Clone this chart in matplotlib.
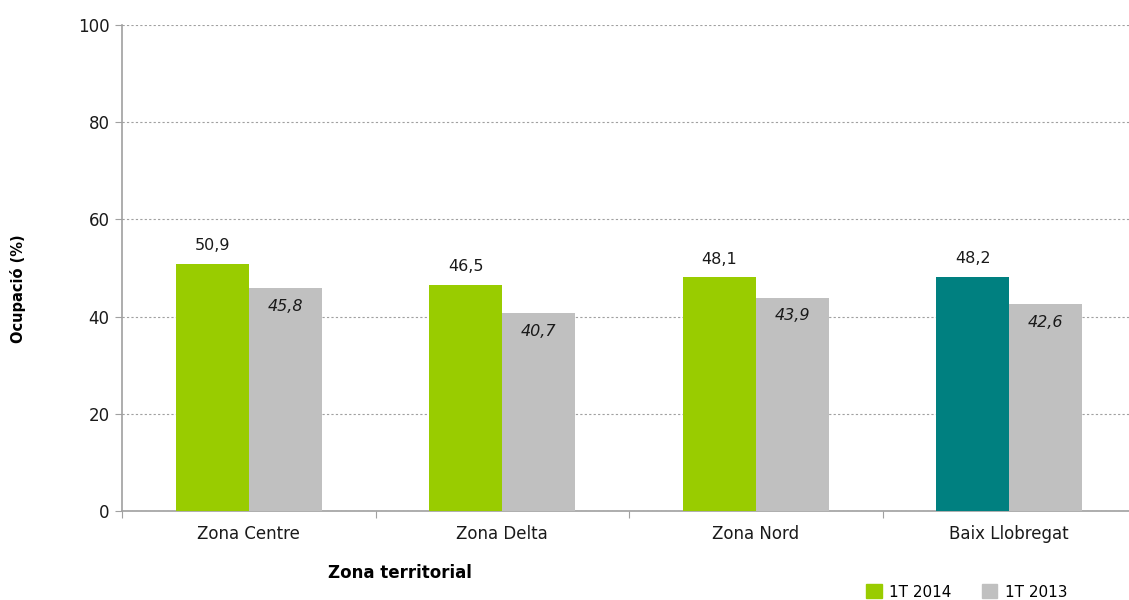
import numpy as np
import matplotlib
matplotlib.use("Agg")
import matplotlib.pyplot as plt
from matplotlib.patches import Patch

# Data
zones = ["Zona Centre", "Zona Delta", "Zona Nord", "Baix Llobregat"]
occ_2014 = [50.9, 46.5, 48.1, 48.2]
occ_2013 = [45.8, 40.7, 43.9, 42.6]
labels_2014 = ["50,9", "46,5", "48,1", "48,2"]
labels_2013 = ["45,8", "40,7", "43,9", "42,6"]
yticks = [0, 20, 40, 60, 80, 100]

green = "#99CC00"
teal = "#008080"
grey = "#C0C0C0"
colors_2014 = [green, green, green, teal]

fig = plt.figure(figsize=(11.29, 6.0), dpi=100)
ax = fig.add_axes([122 / 1129, 89 / 600, 1014 / 1129, 486 / 600])

x = np.arange(len(zones))
w = 0.288
ax.bar(x - w / 2, occ_2014, width=w, color=colors_2014, zorder=3)
ax.bar(x + w / 2, occ_2013, width=w, color=grey, zorder=3)

# value labels: 2014 above the bar, 2013 inside in italics
for xi, v, t in zip(x, occ_2014, labels_2014):
    ax.text(xi - w / 2, v + 2.2, t, ha="center", va="bottom", fontsize=11.5,
            color="#1a1a1a", zorder=4)
for xi, v, t in zip(x, occ_2013, labels_2013):
    ax.text(xi + w / 2, v - 2.2, t, ha="center", va="top", fontsize=11.5,
            style="italic", color="#1a1a1a", zorder=4)

ax.set_xlim(-0.5, 3.5)
ax.set_ylim(0, 100)
ax.set_yticks(yticks)
ax.set_yticklabels([str(t) for t in yticks], fontsize=12, color="#1a1a1a")
ax.tick_params(axis="y", length=5, color="#A0A0A0", pad=4)

# category ticks sit between groups, labels at the group centres
ax.set_xticks(np.arange(-0.5, 3.6, 1.0))
ax.set_xticklabels([])
ax.set_xticks(x, minor=True)
ax.set_xticklabels(zones, minor=True, fontsize=12, color="#1a1a1a")
ax.tick_params(axis="x", which="major", length=5, color="#A0A0A0")
ax.tick_params(axis="x", which="minor", length=0, pad=10)

ax.yaxis.grid(True, linestyle=(0, (2, 2)), color="#A0A0A0", linewidth=0.8, zorder=0)
for side in ["top", "right"]:
    ax.spines[side].set_visible(False)
for side in ["left", "bottom"]:
    ax.spines[side].set_color("#A0A0A0")
    ax.spines[side].set_linewidth(1.2)

fig.text(18 / 1129, 1 - 289 / 600, "Ocupació (%)", rotation=90, ha="center",
         va="center", fontsize=10.5, fontweight="bold")
fig.text(400 / 1129, 1 - 573 / 600, "Zona territorial", ha="center", va="center",
         fontsize=12, fontweight="bold")

handles = [Patch(color=green, label="1T 2014"), Patch(color=grey, label="1T 2013")]
fig.legend(handles=handles, loc="center", bbox_to_anchor=(967 / 1129, 1 - 592 / 600),
           ncol=2, frameon=False, fontsize=11, handlelength=1.0, handleheight=1.0,
           columnspacing=2.0, handletextpad=0.5)

fig.savefig("out.png", dpi=100)
